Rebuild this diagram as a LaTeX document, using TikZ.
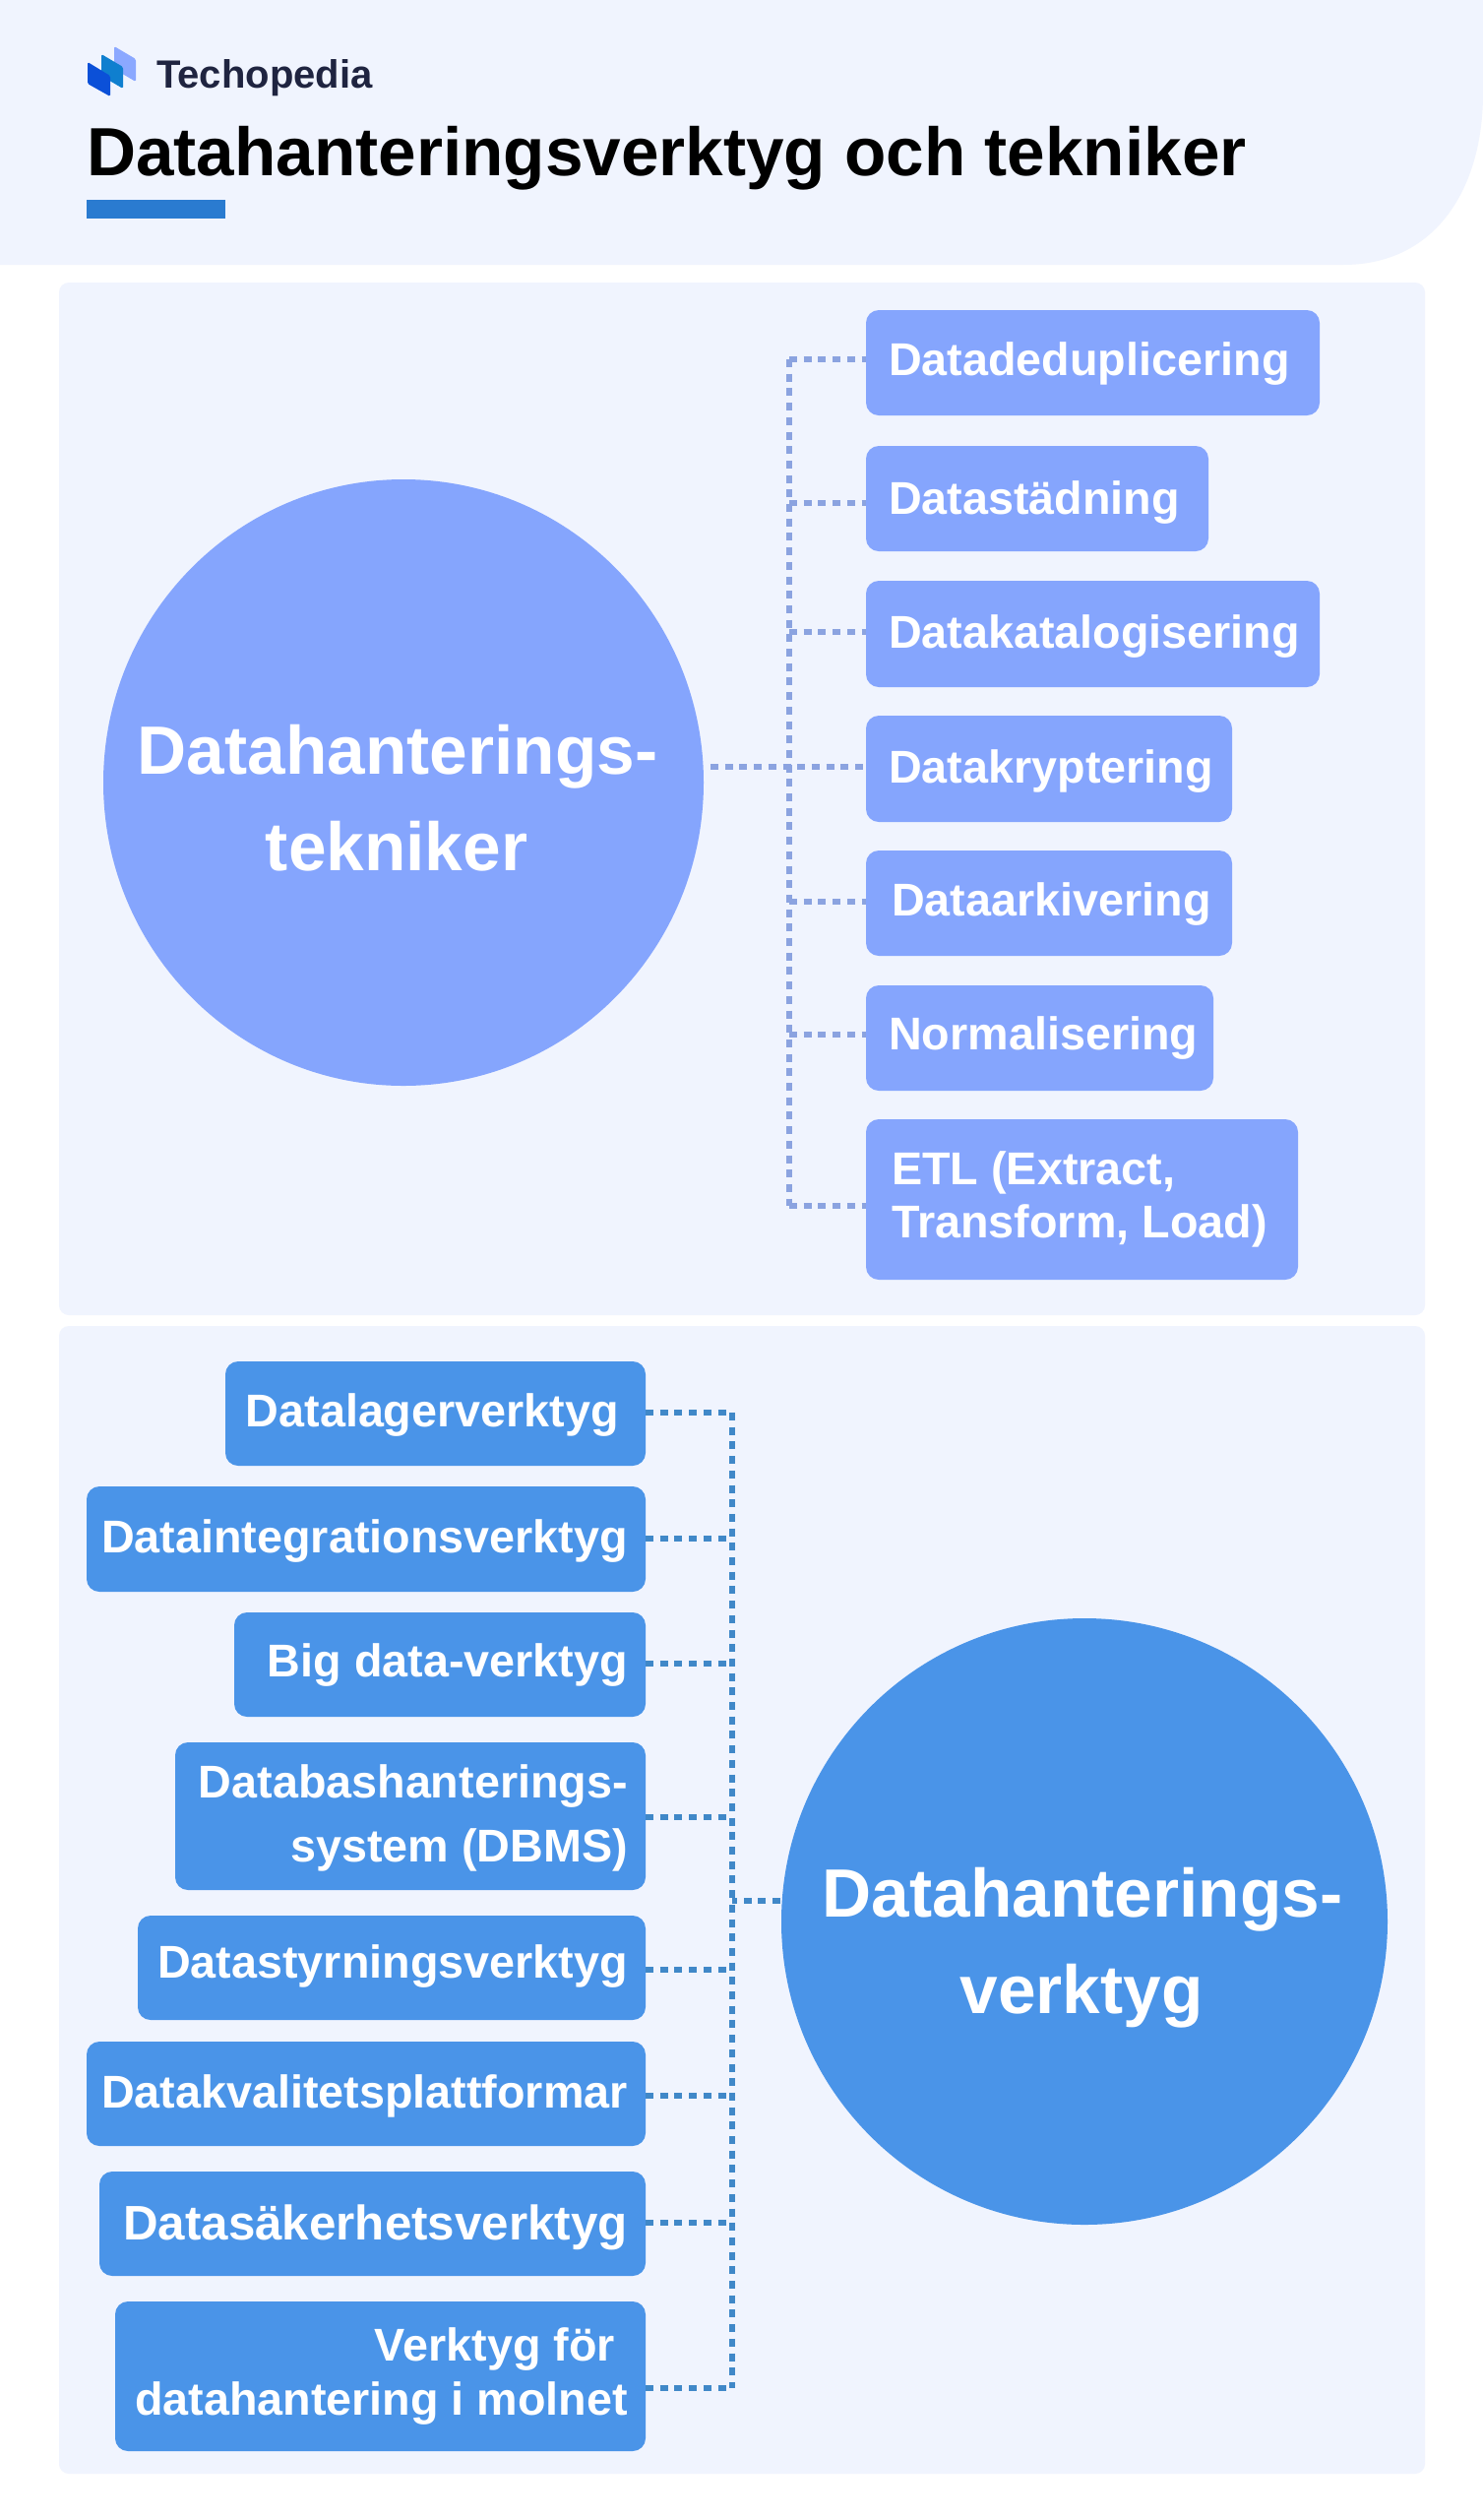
\documentclass[tikz,border=0pt]{standalone}
\usetikzlibrary{shapes.geometric}
\usepackage{fontspec}
\setmainfont{Liberation Sans}
\newfontfamily\boxfont{Liberation Sans}
\definecolor{panelbg}{HTML}{F0F4FE}
\definecolor{lightblue}{HTML}{85A5FD}
\definecolor{midblue}{HTML}{4A94E8}
\definecolor{lightlink}{HTML}{8BA3E0}
\definecolor{midlink}{HTML}{4088C8}
\definecolor{barblue}{HTML}{2A7BD0}
\definecolor{inkdark}{HTML}{1F2440}
\definecolor{logoa}{HTML}{0B50D8}
\definecolor{logob}{HTML}{0F7FCF}
\definecolor{logoc}{HTML}{8BA8FF}
\tikzset{
  panel/.style={fill=panelbg,draw=none,rounded corners=10pt},
  itembox/.style={draw=none,rounded corners=13pt},
  itemtext/.style={text=white,inner sep=0pt,font=\boxfont\fontsize{46.7}{46.7}\selectfont\bfseries},
  circletext/.style={text=white,inner sep=0pt,font=\boxfont\fontsize{69.4}{69.4}\selectfont\bfseries},
  link/.style={line width=5.2pt,dash pattern=on 8pt off 6.7pt},
  toplink/.style={link,draw=lightlink},
  botlink/.style={link,draw=midlink},
}
% name, x1, y1, x2, y2, link y, text anchor, text x, baseline, text
\newcommand{\itm}[9]{%
  \path[itembox,fill=\itemfill] (#2,#3) rectangle (#4,#5);
  \coordinate (#1) at (#2,#6);
  \coordinate (#1r) at (#4,#6);
  \node[itemtext,anchor=base #7,name=#1t] at (#8,#9) {\itemtxt};
}
\newcommand{\itemfill}{lightblue}
\newcommand{\itemtxt}{}
\newcommand{\topi}[9]{\renewcommand{\itemtxt}{#9}\renewcommand{\itemfill}{lightblue}\itm{#1}{#2}{#3}{#4}{#5}{#6}{west}{#7}{#8}}
\newcommand{\boti}[9]{\renewcommand{\itemtxt}{#9}\renewcommand{\itemfill}{midblue}\itm{#1}{#2}{#3}{#4}{#5}{#6}{east}{#7}{#8}}
\begin{document}
\begin{tikzpicture}[x=1pt,y=-1pt]
\useasboundingbox (0,0) rectangle (1507,2560);
\fill[white] (0,0) rectangle (1507,2560);
% header
\fill[panelbg] (0,0) -- (1507,0) -- (1507,95) .. controls (1507,190) and (1460,269) .. (1365,269) -- (0,269) -- cycle;
% logo
\fill[logoc,rounded corners=1.5pt] (116,47) -- (138,60) -- (138,83) -- (116,70) -- cycle;
\fill[logob,rounded corners=1.5pt] (103,55) -- (125,68) -- (125,90) -- (103,77) -- cycle;
\fill[logoa,rounded corners=1.5pt] (89,63) -- (112,77) -- (112,98) -- (89,85) -- cycle;
\node[inner sep=0pt,anchor=base west,text=inkdark,font=\fontsize{40}{40}\selectfont\bfseries] (brand) at (159,89) {Techopedia};
\node[inner sep=0pt,anchor=base west,text=black,font=\boxfont\fontsize{69.3}{69.3}\selectfont\bfseries] (title) at (88,178) {Datahanteringsverktyg och tekniker};
\fill[barblue] (88,203) rectangle (229,222);
% panels
\path[panel] (60,287) rectangle (1448,1336);
\path[panel] (60,1347) rectangle (1448,2513);
% circles
\node[ellipse,fill=lightblue,minimum width=610pt,minimum height=616pt,inner sep=0pt] (c1) at (410,795) {};
\node[circle,fill=midblue,minimum size=616pt,inner sep=0pt] (c2) at (1102,1952) {};
\node[circletext,anchor=base] (c1a) at (404,786) {Datahanterings-};
\node[circletext,anchor=base] (c1b) at (403,884) {tekniker};
\node[circletext,anchor=base] (c2a) at (1100,1947) {Datahanterings-};
\node[circletext,anchor=base] (c2b) at (1099,2045) {verktyg};
% top items
\topi{a}{880}{315}{1341}{422}{365}{903}{381}{Datadeduplicering}
\topi{b}{880}{453}{1228}{560}{511}{903}{522}{Datastädning}
\topi{d}{880}{590}{1341}{698}{642}{903}{658}{Datakatalogisering}
\topi{e}{880}{727}{1252}{835}{779}{903}{795}{Datakryptering}
\topi{f}{880}{864}{1252}{971}{916}{906}{930}{Dataarkivering}
\topi{g}{880}{1001}{1233}{1108}{1051}{903}{1066}{Normalisering}
\topi{h}{880}{1137}{1319}{1300}{1225}{906}{1203}{ETL (Extract,}
\node[itemtext,anchor=base west] (ht2) at (906,1257) {Transform, Load)};
% bottom items
\boti{p}{229}{1383}{656}{1489}{1435}{629}{1449}{Datalagerverktyg}
\boti{q}{88}{1510}{656}{1617}{1563}{638}{1577}{Dataintegrationsverktyg}
\boti{r}{238}{1638}{656}{1744}{1690}{638}{1703}{Big data-verktyg}
\boti{s}{178}{1770}{656}{1920}{1846}{638}{1826}{Databashanterings-}
\node[itemtext,anchor=base east] (st2) at (638,1891) {system (DBMS)};
\boti{t}{140}{1946}{656}{2052}{2001}{638}{2009}{Datastyrningsverktyg}
\boti{u}{88}{2074}{656}{2180}{2129}{638}{2141}{Datakvalitetsplattformar}
\boti{v}{101}{2206}{656}{2312}{2258}{638}{2275}{\fontsize{49.3}{49.3}\selectfont Datasäkerhetsverktyg}
\boti{w}{117}{2338}{656}{2490}{2426}{625}{2398}{Verktyg för}
\node[itemtext,anchor=base east] (wt2) at (638,2453) {datahantering i molnet};
% connectors
\coordinate (sp1) at (802,365);
\coordinate (sp1e) at (802,1225);
\coordinate (c1j) at (722,779);
\draw[toplink] (sp1) -- (sp1e);
\draw[toplink] (c1j) -- (e);
\foreach \n in {a,b,d,f,g,h} \draw[toplink] (sp1 |- \n) -- (\n);
\coordinate (sp2) at (744,1435);
\coordinate (sp2e) at (744,2426);
\coordinate (c2j) at (793,1931);
\draw[botlink] (sp2) -- (sp2e);
\draw[botlink] (c2j) -- (sp2 |- c2j);
\foreach \n in {p,q,r,s,t,u,v,w} \draw[botlink] (\n r) -- (sp2 |- \n r);
\end{tikzpicture}
\end{document}
